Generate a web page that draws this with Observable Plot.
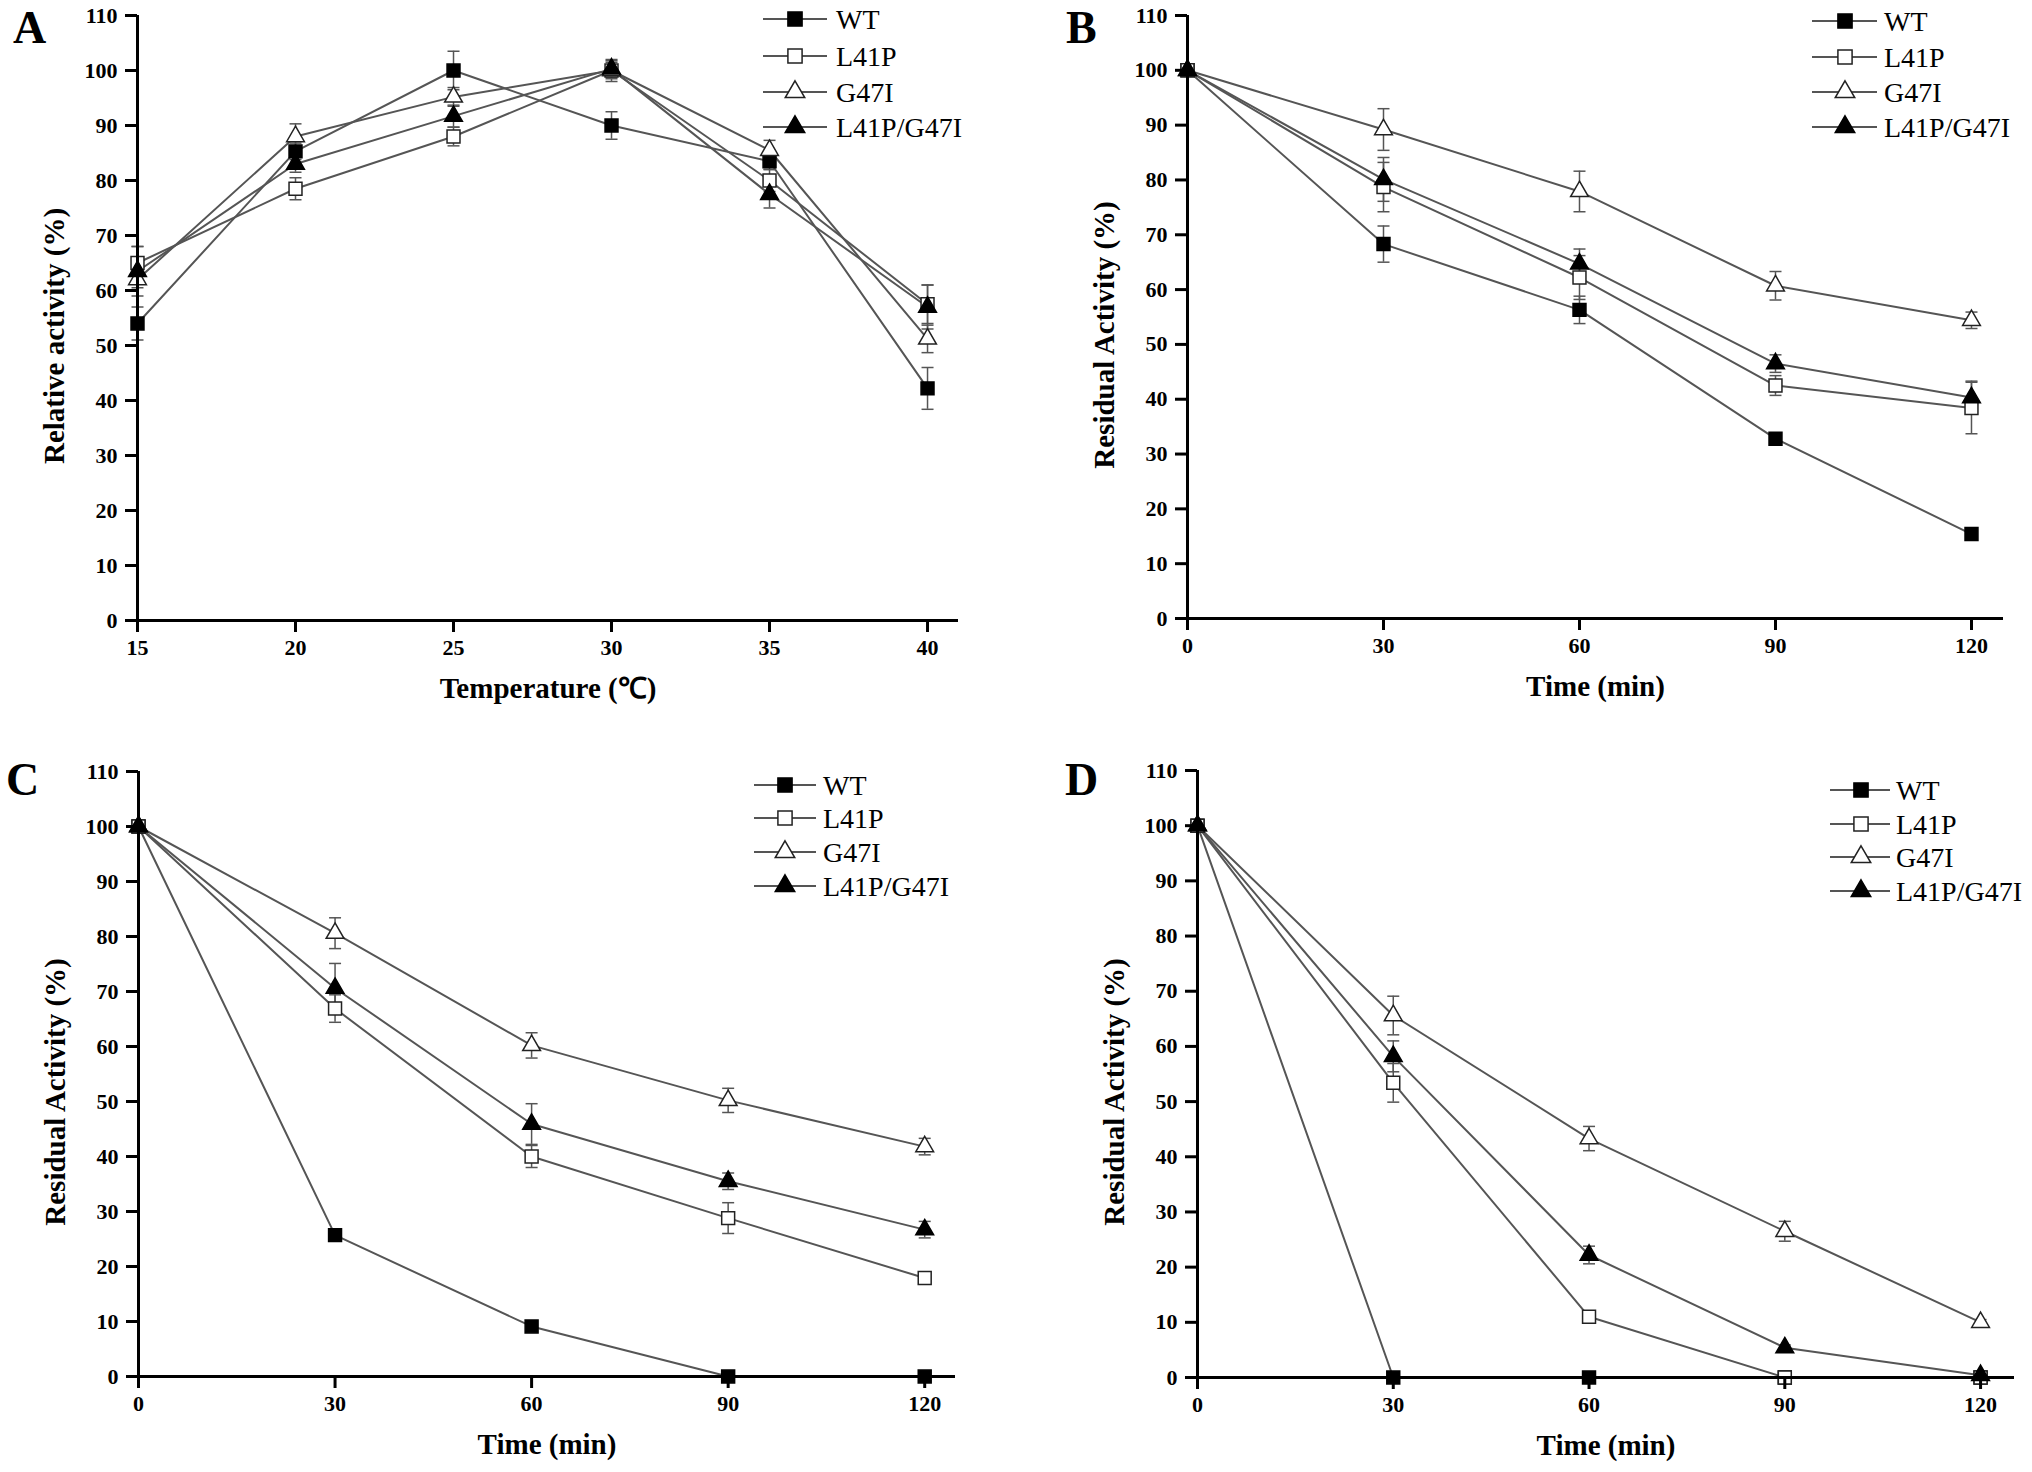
<!DOCTYPE html>
<html><head><meta charset="utf-8">
<script src="https://cdn.jsdelivr.net/npm/d3@7"></script>
<script src="https://cdn.jsdelivr.net/npm/@observablehq/plot@0.6"></script>
<style>
html,body{margin:0;padding:0;background:#fff}
#page{position:relative;width:2032px;height:1472px;overflow:hidden;background:#fff}
.panel{position:absolute;width:1016px;height:736px}
#overlay{position:absolute;left:0;top:0;pointer-events:none}
</style></head><body>
<div id="page"></div>
<script>
// ---------------- data ----------------
const seriesNames = ["WT", "L41P", "G47I", "L41P/G47I"];
const temperatureTicks = [15, 20, 25, 30, 35, 40];
const timeTicks = [0, 30, 60, 90, 120];
const yTicks = [0, 10, 20, 30, 40, 50, 60, 70, 80, 90, 100, 110];

// Panel A: relative activity vs temperature
const aWT      = [54.0, 85.3, 100.0, 90.0, 83.5, 42.2];
const aL41P    = [65.0, 78.5, 88.0, 100.0, 80.0, 57.5];
const aG47I    = [62.0, 88.0, 95.2, 100.0, 85.5, 51.2];
const aDouble  = [63.5, 83.0, 91.7, 100.3, 77.5, 57.0];
const aWTerr     = [3.0, 1.5, 3.5, 2.5, 1.5, 3.8];
const aL41Perr   = [3.0, 2.0, 1.7, 1.5, 2.0, 3.5];
const aG47Ierr   = [1.5, 2.3, 1.7, 2.0, 1.8, 2.5];
const aDoubleerr = [4.5, 1.5, 2.0, 1.5, 2.5, 4.0];

// Panel B: residual activity vs time
const bWT      = [100, 68.3, 56.3, 32.8, 15.4];
const bL41P    = [100, 78.7, 62.2, 42.5, 38.4];
const bG47I    = [100, 89.2, 77.9, 60.7, 54.4];
const bDouble  = [100, 80.1, 64.7, 46.5, 40.3];
const bWTerr     = [0.5, 3.3, 2.5, 0.6, 0.6];
const bL41Perr   = [0.5, 4.5, 4.0, 1.8, 4.7];
const bG47Ierr   = [0.5, 3.8, 3.7, 2.6, 1.5];
const bDoubleerr = [0.5, 4.0, 2.7, 1.6, 3.0];

// Panel C
const cWT      = [100, 25.7, 9.1, 0, 0];
const cL41P    = [100, 66.9, 40.0, 28.8, 17.9];
const cG47I    = [100, 80.6, 60.2, 50.2, 41.8];
const cDouble  = [100, 70.6, 45.9, 35.5, 26.7];
const cWTerr     = [0.5, 0.8, 0.8, 0, 0];
const cL41Perr   = [0.5, 2.5, 2.0, 2.8, 1.0];
const cG47Ierr   = [0.5, 2.8, 2.3, 2.2, 1.5];
const cDoubleerr = [0.5, 4.5, 3.7, 1.5, 1.5];

// Panel D
const dWT      = [100, 0, 0, 0, 0];
const dL41P    = [100, 53.4, 11.0, 0, 0];
const dG47I    = [100, 65.6, 43.3, 26.5, 10.0];
const dDouble  = [100, 58.2, 22.2, 5.4, 0.4];
const dWTerr     = [0.5, 0, 0, 0, 0];
const dL41Perr   = [0.5, 3.5, 1.0, 0, 0];
const dG47Ierr   = [0.5, 3.5, 2.2, 1.8, 0.5];
const dDoubleerr = [0.5, 2.8, 1.6, 0.5, 0.5];

const panelLetters = ["A", "B", "C", "D"];
const xTitles = ["Temperature (\u2103)", "Time (min)", "Time (min)", "Time (min)"];
const yTitles = ["Relative activity (%)", "Residual Activity (%)", "Residual Activity (%)", "Residual Activity (%)"];

// ---------------- styling ----------------
const FONT = "'Liberation Serif','Times New Roman',serif";
const LINE = "#555555";
const markerStyle = [
  {symbol: "square", fill: "black", stroke: "black", r: 7.3},
  {symbol: "square", fill: "white", stroke: "#222", r: 7.3},
  {symbol: "triangle", fill: "white", stroke: "#222", r: 6.6},
  {symbol: "triangle", fill: "black", stroke: "black", r: 6.6}
];
const capSymbol = {draw(ctx) { ctx.moveTo(-6, 0); ctx.lineTo(6, 0); }};

const panels = [
  {left: 0, top: 0, xs: temperatureTicks, xTicks: temperatureTicks, xDomain: [15, 40.98],
   vals: [aWT, aL41P, aG47I, aDouble], errs: [aWTerr, aL41Perr, aG47Ierr, aDoubleerr],
   m: {l: 137, r: 58, t: 15, b: 116},
   legend: {x1: 763, x2: 827, mx: 795, tx: 836, rows: [19, 56, 92, 127]},
   letter: {x: 13, y: 43}},
  {left: 1016, top: 0, xs: timeTicks, xTicks: timeTicks, xDomain: [0, 124.9],
   vals: [bWT, bL41P, bG47I, bDouble], errs: [bWTerr, bL41Perr, bG47Ierr, bDoubleerr],
   m: {l: 171, r: 29, t: 15, b: 118},
   legend: {x1: 1812, x2: 1877, mx: 1845, tx: 1884, rows: [21, 57, 92, 127]},
   letter: {x: 1066, y: 43}},
  {left: 0, top: 736, xs: timeTicks, xTicks: timeTicks, xDomain: [0, 124.7],
   vals: [cWT, cL41P, cG47I, cDouble], errs: [cWTerr, cL41Perr, cG47Ierr, cDoubleerr],
   m: {l: 138, r: 61, t: 35, b: 96},
   legend: {x1: 754, x2: 816, mx: 785, tx: 823, rows: [785, 818, 852, 886]},
   letter: {x: 6, y: 795}},
  {left: 1016, top: 736, xs: timeTicks, xTicks: timeTicks, xDomain: [0, 125.2],
   vals: [dWT, dL41P, dG47I, dDouble], errs: [dWTerr, dL41Perr, dG47Ierr, dDoubleerr],
   m: {l: 181, r: 18, t: 34, b: 95},
   legend: {x1: 1830, x2: 1890, mx: 1861, tx: 1896, rows: [790, 824, 857, 891]},
   letter: {x: 1065, y: 795}}
];

const page = document.getElementById("page");

panels.forEach((p, pi) => {
  const rows = seriesNames.flatMap((s, si) => p.xs.map((x, j) => ({series: s, si, x, y: p.vals[si][j], e: p.errs[si][j]})));
  const withErr = rows.filter(d => d.e > 0);
  const marks = [
    Plot.ruleX(withErr, {x: "x", y1: d => d.y - d.e, y2: d => d.y + d.e, stroke: LINE, strokeWidth: 1.5}),
    Plot.dot(withErr, {x: "x", y: d => d.y + d.e, symbol: capSymbol, fill: "none", stroke: LINE, strokeWidth: 1.5}),
    Plot.dot(withErr, {x: "x", y: d => d.y - d.e, symbol: capSymbol, fill: "none", stroke: LINE, strokeWidth: 1.5}),
    Plot.line(rows, {x: "x", y: "y", z: "series", stroke: LINE, strokeWidth: 2})
  ];
  seriesNames.forEach((s, si) => {
    const ms = markerStyle[si];
    marks.push(Plot.dot(rows.filter(d => d.si === si), {x: "x", y: "y", symbol: ms.symbol, r: ms.r, fill: ms.fill, stroke: ms.stroke, strokeWidth: 1.5}));
  });
  marks.push(
    Plot.axisY({ticks: yTicks, tickSize: 12, tickPadding: 8, strokeWidth: 3, fontSize: 22, fontWeight: "bold", label: null, tickFormat: d => String(d)}),
    Plot.axisX({ticks: p.xTicks, tickSize: 12, tickPadding: 7, strokeWidth: 3, fontSize: 22, fontWeight: "bold", label: null, tickFormat: d => String(d)}),
    Plot.ruleX([p.xDomain[0]], {stroke: "black", strokeWidth: 3}),
    Plot.ruleY([0], {stroke: "black", strokeWidth: 3}),
    Plot.text([xTitles[pi]], {text: d => d, frameAnchor: "bottom", textAnchor: "middle", dy: 77, fontSize: 29, fontWeight: "bold", fill: "black"}),
    Plot.text([yTitles[pi]], {text: d => d, frameAnchor: "left", textAnchor: "middle", rotate: -90, dx: -83, dy: 18, fontSize: 29, fontWeight: "bold", fill: "black"})
  );
  const chart = Plot.plot({
    width: 1016, height: 736,
    marginLeft: p.m.l, marginRight: p.m.r, marginTop: p.m.t, marginBottom: p.m.b,
    x: {domain: p.xDomain, axis: null},
    y: {domain: [0, 110], axis: null},
    style: {fontFamily: FONT, background: "white", color: "black", overflow: "visible"},
    marks
  });
  const wrap = document.createElement("div");
  wrap.className = "panel";
  wrap.style.left = p.left + "px";
  wrap.style.top = p.top + "px";
  wrap.appendChild(chart);
  page.appendChild(wrap);
});

// ---------------- legends and panel letters ----------------
const svg = d3.select(page).append("svg").attr("id", "overlay")
  .attr("width", 2032).attr("height", 1472).style("font-family", FONT);
panels.forEach((p, pi) => {
  svg.append("text").attr("x", p.letter.x).attr("y", p.letter.y)
    .attr("font-size", 46).attr("font-weight", "bold").attr("fill", "black").text(panelLetters[pi]);
  seriesNames.forEach((s, si) => {
    const y = p.legend.rows[si];
    const ms = markerStyle[si];
    svg.append("line").attr("x1", p.legend.x1).attr("x2", p.legend.x2).attr("y1", y).attr("y2", y)
      .attr("stroke", LINE).attr("stroke-width", 2);
    const type = ms.symbol === "square" ? d3.symbolSquare : d3.symbolTriangle;
    svg.append("path").attr("d", d3.symbol(type, Math.PI * ms.r * ms.r * 1.2)())
      .attr("transform", `translate(${p.legend.mx},${y})`)
      .attr("fill", ms.fill).attr("stroke", ms.stroke).attr("stroke-width", 1.5);
    svg.append("text").attr("x", p.legend.tx).attr("y", y).attr("dy", "0.35em")
      .attr("font-size", 28).attr("fill", "black").text(s);
  });
});
</script>
</body></html>
